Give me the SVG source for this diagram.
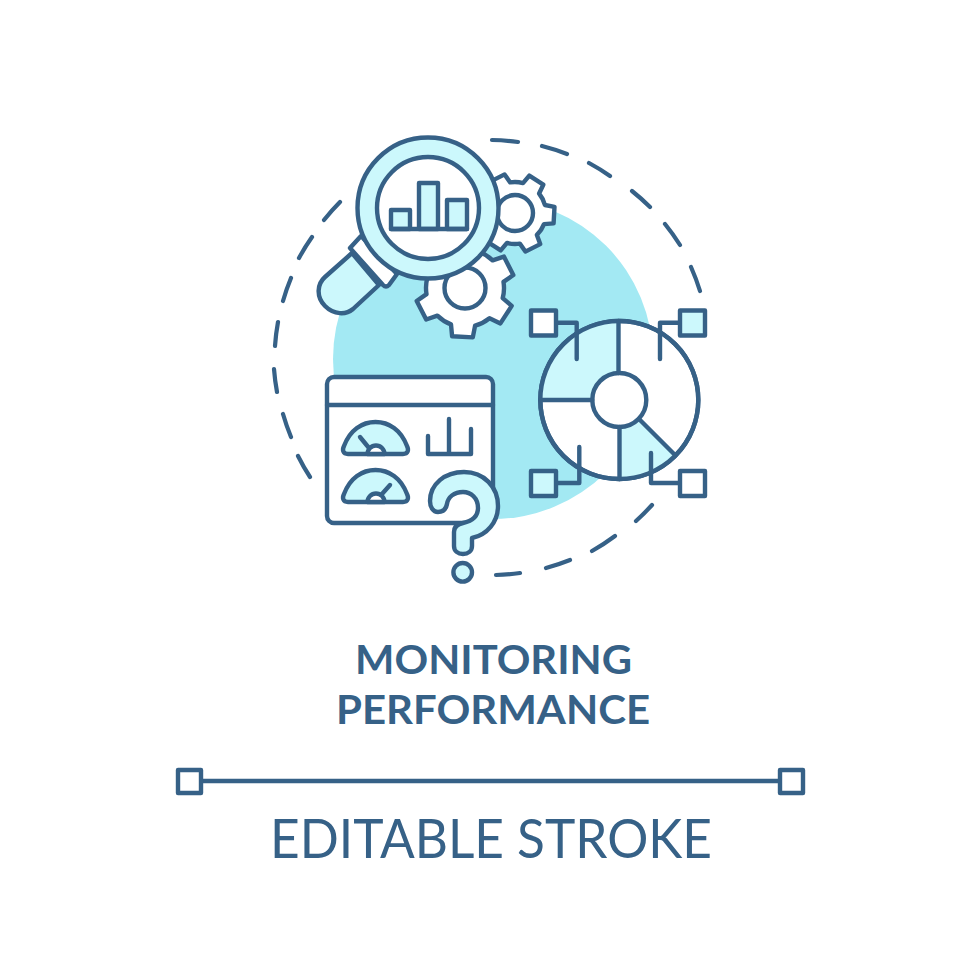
<svg xmlns="http://www.w3.org/2000/svg" width="980" height="980" viewBox="0 0 980 980">
<style>
.s{stroke:#366187;stroke-width:4.4;stroke-linejoin:round;stroke-linecap:round}
.w{fill:#fff}.l{fill:#ccf8fc}.n{fill:none}
.d{fill:none;stroke:#366187;stroke-width:4.2;stroke-linecap:round}
text{fill:#366187;font-family:"Lato","Liberation Sans",sans-serif;text-anchor:middle}
</style>
<rect width="980" height="980" fill="#fff"/>
<circle id="blob" cx="493" cy="359" r="160" fill="#a3e9f3"/>
<g id="dashed-ring">
<path class="d" d="M492 140A217 217 0 0 1 518 142M542 146A217 217 0 0 1 567 154M589 163A217 217 0 0 1 610 176M632 191A217 217 0 0 1 650 207M665 224A217 217 0 0 1 680 245M691 267A217 217 0 0 1 700 291"/>
<path class="d" d="M652 505A217 217 0 0 1 636 521M615 536A217 217 0 0 1 592 551M570 560A217 217 0 0 1 546 568M520 573A217 217 0 0 1 496 575"/>
<path class="d" d="M340 202A217 217 0 0 0 324 220M312 237A217 217 0 0 0 299 258M291 278A217 217 0 0 0 283 301M278 322A217 217 0 0 0 275 346M274 369A217 217 0 0 0 277 392M283 414A217 217 0 0 0 291 437M298 456A217 217 0 0 0 310 477"/>
</g>
<g id="gear-small">
<path class="s w" d="M544.9 205L554.500 206.800L553.600 223.400L544 224.100A31 31 0 0 1 536.900 234.900L540.200 244.100L525.400 251.600L519.800 243.600A31 31 0 0 1 507 242.900L500.700 250.400L486.700 241.300L490.900 232.500A31 31 0 0 1 485.100 221L475.500 219.200L476.400 202.600L486 201.900A31 31 0 0 1 493.100 191.100L489.800 181.900L504.600 174.400L510.200 182.400A31 31 0 0 1 523 183.100L529.300 175.600L543.300 184.700L539.100 193.500A31 31 0 0 1 544.900 205Z"/>
<circle class="s w" cx="515" cy="213" r="18"/>
</g>
<g id="gear-large">
<path class="s w" d="M502.700 298.100L511.700 305.900L500.400 323.400L489.500 318.300A39 39 0 0 1 475.100 325.700L472.800 337.400L452.100 336.300L451 324.400A39 39 0 0 1 437.400 315.600L426.200 319.500L416.700 301L426.500 294.100A39 39 0 0 1 427.300 277.900L418.300 270.100L429.600 252.600L440.500 257.700A39 39 0 0 1 454.900 250.300L457.200 238.600L477.900 239.700L479 251.600A39 39 0 0 1 492.600 260.400L503.900 256.600L513.300 275L503.500 281.900A39 39 0 0 1 502.700 298.100Z"/>
<circle class="s w" cx="465" cy="288" r="20.500"/>
</g>
<g id="magnifier">
<path class="s l" d="M352 253L325 277C317 284 316 297 325 306C334 315 346 315 353 309L379 285Z"/>
<path class="s w" d="M361 236L350 248L383 285C385 287 387 287 389 285L397 274Z"/>
<circle class="s l" cx="428" cy="208" r="70.500"/>
<circle class="s w" cx="428" cy="208" r="51"/>
<path class="s l" d="M391 229V210H410V229ZM419 229V183H438V229ZM447 229V200H467V229Z"/>
<path class="s n" d="M391 229H467"/>
</g>
<g id="dashboard">
<rect class="s w" x="327" y="377" width="166" height="146" rx="7"/>
<path class="s n" d="M327 405H493"/>
<g id="gauge-top">
<path class="s l" d="M348 454H403C408 454 409 450 407 446C401 430 389 422 375.500 422C362 422 350 430 344 446C342 450 343 454 348 454Z"/>
<path class="s w" d="M367.500 454A8.500 8.500 0 0 1 384.500 454Z"/>
<path class="s n" d="M360 437L369 448"/>
</g>
<g id="gauge-bottom">
<path class="s l" d="M348 502H403C408 502 409 498 407 494C401 478 389 470 375.500 470C362 470 350 478 344 494C342 498 343 502 348 502Z"/>
<path class="s w" d="M367.500 502A8.500 8.500 0 0 1 384.500 502Z"/>
<path class="s n" d="M390 485L382 494"/>
</g>
<path class="s n" d="M428 436V454H471V429M449 419V454"/>
</g>
<g id="question-mark">
<path class="s l" d="M430 501C430 484 445 472 464 472C484 472 498 487 498 506C498 522 487 535 472 538V546C472 551 468 554 463 554C458 554 454 551 454 546V532C454 526 458 524 463 523C472 521 478 516 478 508C478 498 471 492 463 492C454 492 448 497 447 504C446 509 443 512 438 512C433 512 430 507 430 501Z"/>
<circle class="s l" cx="462.700" cy="572.300" r="9.300"/>
</g>
<g id="pie">
<circle class="s w" cx="619.300" cy="400" r="79"/>
<path class="l" d="M618.500 321A79 79 0 0 0 540.300 400H592.500A27 27 0 0 1 618.500 373Z"/>
<path class="l" d="M619.500 479A79 79 0 0 0 675 456L639 420A27 27 0 0 1 619.500 427Z"/>
<circle class="s n" cx="619.300" cy="400" r="79"/>
<circle class="s w" cx="619.300" cy="400" r="27"/>
<path class="s n" d="M618.500 321V373M540.300 400H592.300M619.500 427V479M639 419L675 455"/>
</g>
<g id="connectors">
<path class="s n" d="M556 322.700H576.700V359M680 322.700H660V359M556 483H579.300V447M680 483H651V453"/>
</g>
<g id="handle-tl"><rect class="s w" x="531" y="310.500" width="25" height="25"/></g>
<g id="handle-tr"><rect class="s l" x="680" y="310.500" width="25" height="25"/></g>
<g id="handle-bl"><rect class="s l" x="531" y="471" width="25" height="25"/></g>
<g id="handle-br"><rect class="s w" x="680" y="471" width="25" height="25"/></g>
<g id="title">
<text x="493.500" y="674" font-size="40" font-weight="700" textLength="277" lengthAdjust="spacingAndGlyphs">MONITORING</text>
<text x="493" y="724" font-size="40" font-weight="700" textLength="314" lengthAdjust="spacingAndGlyphs">PERFORMANCE</text>
</g>
<g id="stroke-bar">
<path class="s n" d="M202 781H778"/>
<rect class="s w" x="178" y="770" width="23" height="23"/>
<rect class="s w" x="780" y="770" width="23" height="23"/>
</g>
<text id="caption" x="491" y="858" font-size="55" font-weight="400" textLength="442" lengthAdjust="spacingAndGlyphs">EDITABLE STROKE</text>
</svg>
